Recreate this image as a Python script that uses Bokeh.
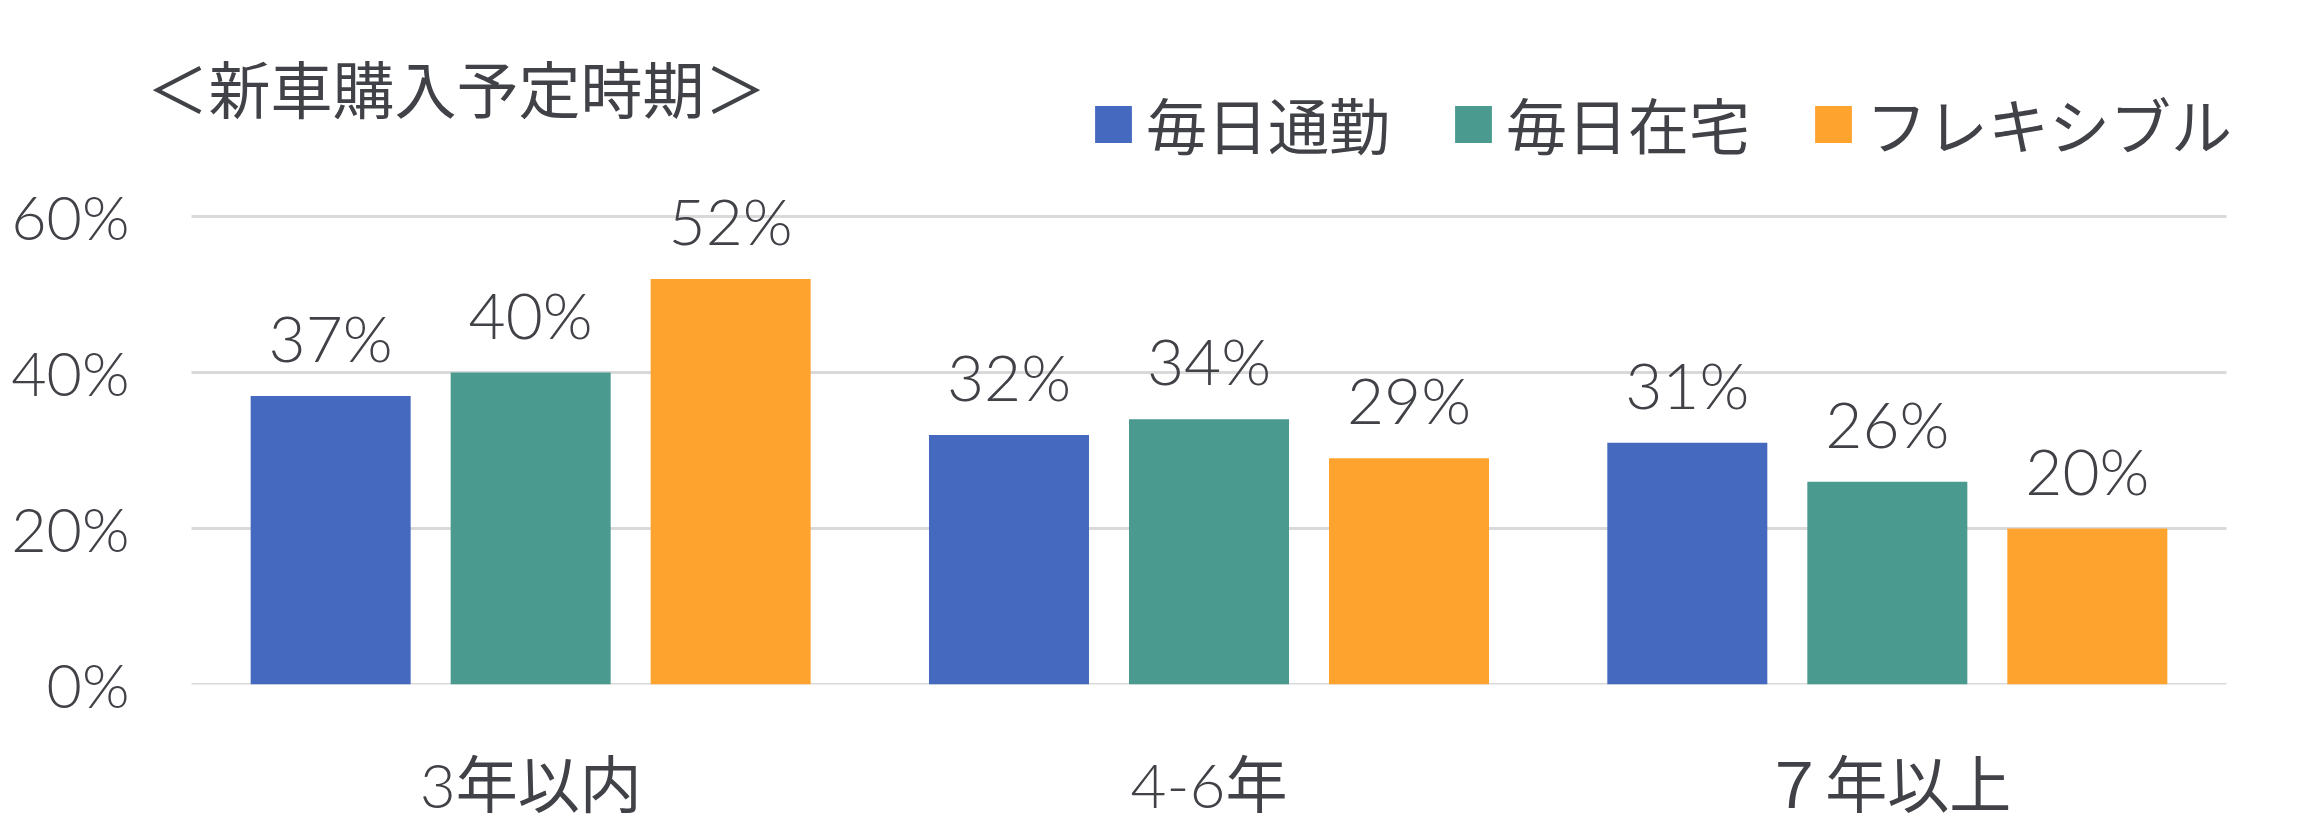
from bokeh.plotting import figure
from bokeh.models import (FactorRange, Range1d, ColumnDataSource, LabelSet, Legend,
                          LegendItem, Label, FixedTicker, NumeralTickFormatter)
from bokeh.transform import dodge
from bokeh.core.properties import value
from bokeh.embed import file_html
from bokeh.resources import INLINE

# ---- data ----
title_text = "＜新車購入予定時期＞"
categories = ["3年以内", "4-6年", "７年以上"]
series_names = ["毎日通勤", "毎日在宅", "フレキシブル"]
daily_commute = [0.37, 0.32, 0.31]
daily_home = [0.40, 0.34, 0.26]
flexible = [0.52, 0.29, 0.20]
y_ticks = [0, 0.2, 0.4, 0.6]

colors = ["#4569BE", "#4A9A8F", "#FFA32F"]
TEXT = "#404247"
CJK = "Noto Sans CJK JP"
NUM = "Lato Light, Lato, Noto Sans CJK JP"

src = ColumnDataSource(dict(
    cat=categories,
    commute=daily_commute,
    home=daily_home,
    flex=flexible,
    commute_lbl=[f"{round(v * 100)}%" for v in daily_commute],
    home_lbl=[f"{round(v * 100)}%" for v in daily_home],
    flex_lbl=[f"{round(v * 100)}%" for v in flexible],
))

W, H = 2292, 832
FRAME_BOTTOM = 684
CAT_PX = 678.3
PAD_L = 45
PAD_PX = 45
PX_PER_UNIT = 780.0
LEFT = 191 - PAD_L
RIGHT = W - int(round(LEFT + 3 * CAT_PX + 2 * PAD_PX))

p = figure(width=W, height=H, output_backend="svg", toolbar_location=None,
           x_range=FactorRange(*categories, range_padding=PAD_PX / CAT_PX,
                               range_padding_units="absolute"),
           y_range=Range1d(0, FRAME_BOTTOM / PX_PER_UNIT),
           min_border_left=LEFT, min_border_right=RIGHT,
           min_border_top=0, min_border_bottom=H - FRAME_BOTTOM)
p.outline_line_color = None
p.background_fill_color = "white"
p.border_fill_color = "white"

# horizontal gridlines spanning the categorical extent only
n = len(categories)
p.segment(x0=[0] * len(y_ticks), x1=[n] * len(y_ticks), y0=y_ticks, y1=y_ticks,
          line_color="#D9D9D9", line_width=3)

bw = 160 / CAT_PX
off = 200 / CAT_PX
cols = ["commute", "home", "flex"]
offsets = [-off, 0.0, off]
renderers = []
for col, o, c in zip(cols, offsets, colors):
    r = p.vbar(x=dodge("cat", o, range=p.x_range), top=col, width=bw, source=src,
               fill_color=c, line_color=None)
    renderers.append(r)
    lbl = LabelSet(x=dodge("cat", o, range=p.x_range), y=col, text=col + "_lbl",
                   source=src, y_offset=34, text_align="center",
                   text_baseline="alphabetic", text_font=value(NUM),
                   text_font_size="64px", text_color=TEXT)
    p.add_layout(lbl)

# axes
p.yaxis.ticker = FixedTicker(ticks=y_ticks)
p.yaxis.formatter = NumeralTickFormatter(format="0%")
p.yaxis.axis_line_color = None
p.yaxis.major_tick_line_color = None
p.yaxis.minor_tick_line_color = None
p.yaxis.major_tick_out = 0
p.yaxis.major_tick_in = 0
p.yaxis.major_label_standoff = 25 - (PAD_L - 37)
p.yaxis.major_label_text_font = NUM
p.yaxis.major_label_text_font_size = "61px"
p.yaxis.major_label_text_color = TEXT

p.xaxis.axis_line_color = None
p.xaxis.major_tick_line_color = None
p.xaxis.major_tick_out = 0
p.xaxis.major_tick_in = 0
p.xaxis.major_label_standoff = 62
p.xaxis.major_label_text_font = NUM
p.xaxis.major_label_text_font_size = "62px"
p.xaxis.major_label_text_color = TEXT

p.xgrid.grid_line_color = None
p.ygrid.grid_line_color = None

# legend
legend = Legend(items=[LegendItem(label=nm, renderers=[r]) for nm, r in zip(series_names, renderers)],
                orientation="horizontal", location=(944, 516),
                label_text_font=CJK, label_text_font_size="61px",
                label_text_color=TEXT, glyph_width=46, glyph_height=46,
                label_standoff=10, spacing=60, padding=0, margin=0,
                border_line_color=None, background_fill_alpha=0)
p.add_layout(legend, "center")

# title
p.add_layout(Label(x=0, y=598, x_units="screen", y_units="screen", text=title_text,
                   text_font=CJK, text_font_size="62px", text_color=TEXT,
                   text_baseline="middle", text_align="left"))

open("out.html", "w").write(file_html(p, INLINE))
